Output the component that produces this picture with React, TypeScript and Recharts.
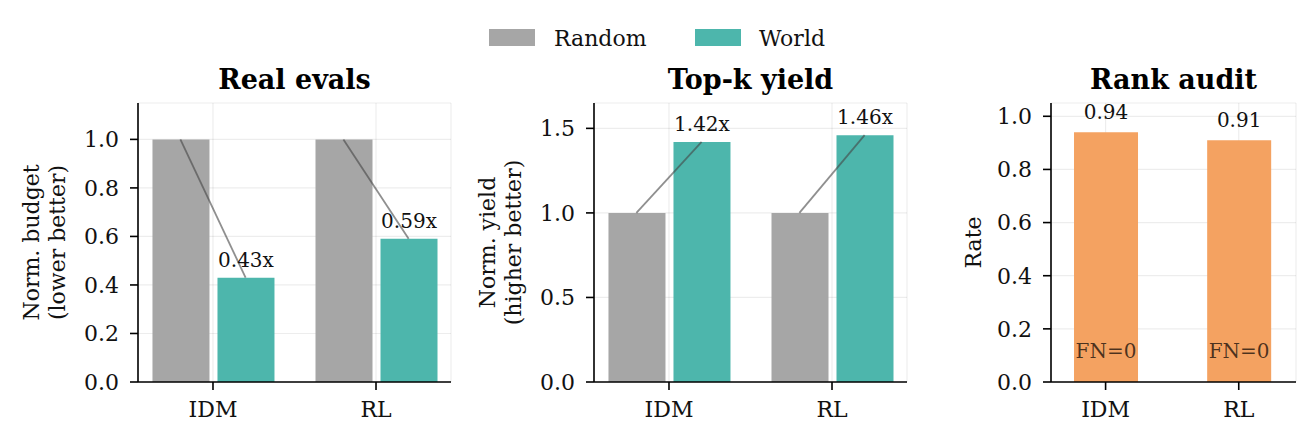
import React from 'react';
import {
  BarChart,
  Bar,
  XAxis,
  YAxis,
  CartesianGrid,
  ReferenceLine,
  LabelList,
} from 'recharts';

// categories + values
const categories = ['IDM', 'RL'];
const catPos = [0, 1];

const evalsRandom = [1.0, 1.0];
const evalsWorld = [0.43, 0.59];

const yieldRandom = [1.0, 1.0];
const yieldWorld = [1.42, 1.46];

const auditRate = [0.94, 0.91];
const auditFN = [0, 0];

const evalsTicks = [0, 0.2, 0.4, 0.6, 0.8, 1.0];
const yieldTicks = [0, 0.5, 1.0, 1.5];
const auditTicks = [0, 0.2, 0.4, 0.6, 0.8, 1.0];

const GRAY = '#a6a6a6';
const TEAL = '#4db6ac';
const ORANGE = '#f4a261';
const FONT = '"DejaVu Serif", serif';
const INK = '#111';

const OFFSET = 0.2; // bar centre offset from category position

const pairRows = (random: number[], world: number[]) =>
  catPos.map((x, i) => ({
    x,
    random: random[i],
    world: world[i],
    ratio: `${(world[i] / random[i]).toFixed(2)}x`,
  }));

const evalsData = pairRows(evalsRandom, evalsWorld);
const yieldData = pairRows(yieldRandom, yieldWorld);
const auditData = catPos.map((x, i) => ({
  x,
  rate: auditRate[i],
  label: auditRate[i].toFixed(2),
  fn: `FN=${auditFN[i]}`,
}));

const yLabel = (lines: string[], dist: number) => (props: any) => {
  const { x, y, width, height } = props.viewBox;
  const bx = x + width - dist;
  const cy = y + height / 2;
  return (
    <text
      transform={`rotate(-90 ${bx} ${cy})`}
      x={bx}
      y={cy}
      textAnchor="middle"
      fontFamily={FONT}
      fontSize={22}
      fill={INK}
    >
      {lines.map((l, i) => (
        <tspan key={l} x={bx} dy={i === 0 ? 0 : 26}>
          {l}
        </tspan>
      ))}
    </text>
  );
};

const axisLine = { stroke: '#000', strokeWidth: 1.6 };
const tickStyle = { fill: INK, fontSize: 22, fontFamily: FONT };

interface PanelProps {
  left: number;
  width: number;
  xDomain: [number, number];
  yDomain: [number, number];
  yTicks: number[];
  label: (props: any) => React.ReactElement;
  children: React.ReactNode;
  data: Record<string, any>[];
}

function Panel({ left, width, xDomain, yDomain, yTicks, label, data, children }: PanelProps) {
  return (
    <div style={{ position: 'absolute', left, top: 0 }}>
      <BarChart
        width={width}
        height={442}
        data={data}
        barGap={8}
        margin={{ top: 103, right: 10, bottom: 20, left: 78 }}
      >
        <XAxis
          dataKey="x"
          type="number"
          domain={xDomain}
          ticks={catPos}
          interval={0}
          allowDataOverflow
          tickFormatter={(v: number) => categories[v] ?? ''}
          tick={tickStyle}
          axisLine={axisLine}
          tickLine={axisLine}
          tickSize={8}
          tickMargin={11}
          height={40}
        />
        <YAxis
          type="number"
          domain={yDomain}
          ticks={yTicks}
          interval={0}
          allowDataOverflow
          tickFormatter={(v: number) => v.toFixed(1)}
          tick={tickStyle}
          axisLine={axisLine}
          tickLine={axisLine}
          tickSize={8}
          tickMargin={11}
          width={60}
          label={{ content: label }}
        />
        {children}
        <CartesianGrid stroke="#000" strokeOpacity={0.07} strokeWidth={1.2} />
      </BarChart>
    </div>
  );
}

const pairSeries = (data: ReturnType<typeof pairRows>, barSize: number) => [
  <Bar key="r" dataKey="random" fill={GRAY} barSize={barSize} isAnimationActive={false} />,
  <Bar key="w" dataKey="world" fill={TEAL} barSize={barSize} isAnimationActive={false}>
    <LabelList
      dataKey="ratio"
      position="top"
      offset={11}
      fill={INK}
      fontSize={20}
      fontFamily={FONT}
    />
  </Bar>,
  ...data.map((d) => (
    <ReferenceLine
      key={`seg-${d.x}`}
      segment={[
        { x: d.x - OFFSET, y: d.random },
        { x: d.x + OFFSET, y: d.world },
      ]}
      stroke="#444"
      strokeOpacity={0.6}
      strokeWidth={1.8}
      ifOverflow="visible"
    />
  )),
];

function Titles() {
  const titles = [
    { text: 'Real evals', cx: (138 + 451) / 2 },
    { text: 'Top-k yield', cx: (594 + 907) / 2 },
    { text: 'Rank audit', cx: (1051 + 1296) / 2 },
  ];
  return (
    <svg
      width={1313}
      height={100}
      style={{ position: 'absolute', left: 0, top: 0, pointerEvents: 'none' }}
    >
      {titles.map((t) => (
        <text
          key={t.text}
          x={t.cx}
          y={89}
          textAnchor="middle"
          fontFamily={FONT}
          fontWeight="bold"
          fontSize={27}
          fill="#000"
        >
          {t.text}
        </text>
      ))}
      <rect x={489} y={29} width={46} height={17} fill={GRAY} />
      <text x={554} y={46} fontFamily={FONT} fontSize={22} fill={INK}>
        Random
      </text>
      <rect x={695} y={29} width={46} height={17} fill={TEAL} />
      <text x={759} y={46} fontFamily={FONT} fontSize={22} fill={INK}>
        World
      </text>
    </svg>
  );
}

export default function App() {
  return (
    <div
      style={{
        position: 'absolute',
        left: 0,
        top: 0,
        width: 1313,
        height: 442,
        background: '#fff',
        overflow: 'hidden',
      }}
    >
      <Panel
        left={0}
        width={461}
        xDomain={[-0.46, 1.46]}
        yDomain={[0, 1.15]}
        yTicks={evalsTicks}
        label={yLabel(['Norm. budget', '(lower better)'], 99)}
        data={evalsData}
      >
        {pairSeries(evalsData, 57)}
      </Panel>
      <Panel
        left={456}
        width={461}
        xDomain={[-0.46, 1.46]}
        yDomain={[0, 1.65]}
        yTicks={yieldTicks}
        label={yLabel(['Norm. yield', '(higher better)'], 99)}
        data={yieldData}
      >
        {pairSeries(yieldData, 57)}
      </Panel>
      <Panel
        left={913}
        width={393}
        xDomain={[-0.41, 1.43]}
        yDomain={[0, 1.05]}
        yTicks={auditTicks}
        label={yLabel(['Rate'], 70)}
        data={auditData}
      >
        <Bar dataKey="rate" fill={ORANGE} barSize={64} isAnimationActive={false}>
          <LabelList
            dataKey="label"
            position="top"
            offset={13}
            fill={INK}
            fontSize={20}
            fontFamily={FONT}
          />
          <LabelList
            dataKey="fn"
            position="insideBottom"
            offset={24}
            fill="rgba(0,0,0,0.7)"
            fontSize={20}
            fontFamily={FONT}
          />
        </Bar>
      </Panel>
      <Titles />
    </div>
  );
}
